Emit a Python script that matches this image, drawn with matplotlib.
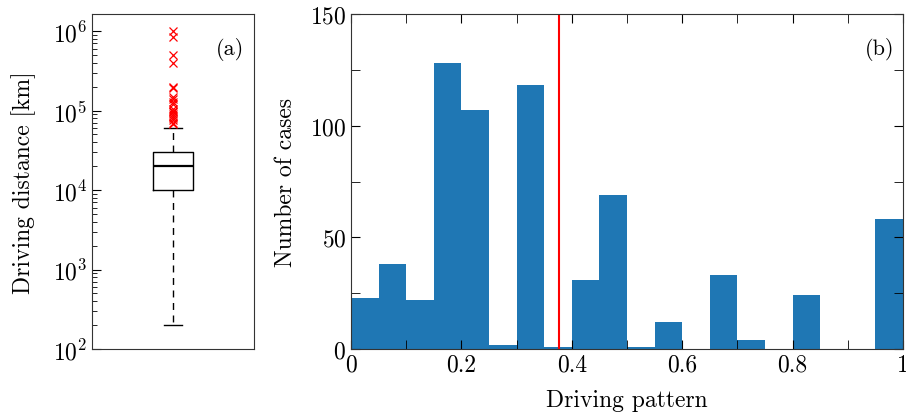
import matplotlib
matplotlib.use("Agg")
import matplotlib.pyplot as plt
import numpy as np

plt.rcParams["font.family"] = "serif"
plt.rcParams["font.serif"] = ["cmr10"]
plt.rcParams["mathtext.fontset"] = "cm"
plt.rcParams["axes.formatter.use_mathtext"] = True
plt.rcParams["font.size"] = 17

# box plot summary of driving distance (km)
dist_whislo = 200
dist_q1 = 1e4
dist_med = 2e4
dist_q3 = 3e4
dist_whishi = 6e4
dist_fliers = [1e6, 8.5e5, 5e5, 4e5, 2e5, 1.9e5, 1.5e5, 1.4e5, 1.3e5, 1.2e5,
               1.05e5, 1e5, 9.5e4, 9e4, 8.5e4, 8e4, 7.5e4, 7e4, 6.7e4]

# histogram of driving pattern
bin_edges = np.linspace(0, 1, 21)
counts = [23, 38, 22, 128, 107, 2, 118, 1, 31, 69,
          1, 12, 0, 33, 4, 0, 24, 0, 0, 58]
threshold = 0.377

fig = plt.figure(figsize=(9.06, 4.14), dpi=100)
ax1 = fig.add_axes([92/906, 1-350/414, 162/906, 335/414])
ax2 = fig.add_axes([351/906, 1-350/414, 552/906, 335/414])

stats = [{"whislo": dist_whislo, "q1": dist_q1, "med": dist_med,
          "q3": dist_q3, "whishi": dist_whishi, "fliers": dist_fliers}]
ax1.bxp(stats, positions=[1], widths=0.25, capwidths=0.11,
        boxprops=dict(color="black", linewidth=1.0),
        whiskerprops=dict(color="black", linewidth=1.0, linestyle=(0, (5, 4))),
        capprops=dict(color="black", linewidth=1.0),
        medianprops=dict(color="black", linewidth=1.6),
        flierprops=dict(marker="x", markeredgecolor="red", markersize=6,
                        markeredgewidth=0.9, linestyle="none"))
ax1.set_yscale("log")
ax1.set_ylim(100, 1.64e6)
ax1.set_xlim(0.5, 1.5)
ax1.set_xticks([])
ax1.tick_params(axis="y", which="both", direction="in", right=False)
ax1.tick_params(axis="y", which="major", length=6.5)
ax1.tick_params(axis="y", which="minor", length=3.5)
ax1.set_ylabel("Driving distance [km]", labelpad=12)
ax1.text(0.94, 0.93, "(a)", transform=ax1.transAxes, ha="right", va="top", fontsize=16)

ax2.bar(bin_edges[:-1], counts, width=np.diff(bin_edges), align="edge",
        color="#1f77b4", linewidth=0)
ax2.axvline(threshold, color="red", linewidth=1.5)
ax2.set_xlim(0, 1)
ax2.set_ylim(0, 150)
ax2.set_xticks(np.arange(0, 1.01, 0.2))
ax2.set_xticklabels(["0", "0.2", "0.4", "0.6", "0.8", "1"])
ax2.set_xticks(np.arange(0.1, 1.0, 0.2), minor=True)
ax2.set_yticks([0, 50, 100, 150])
ax2.set_yticks([25, 75, 125], minor=True)
ax2.tick_params(which="both", direction="in", top=True, right=True, length=6.5)
ax2.set_xlabel("Driving pattern", labelpad=9)
ax2.set_ylabel("Number of cases", labelpad=9)
ax2.text(0.985, 0.93, "(b)", transform=ax2.transAxes, ha="right", va="top", fontsize=16)

for ax in (ax1, ax2):
    for s in ax.spines.values():
        s.set_color("#333333")

fig.savefig("out.png", dpi=100)
